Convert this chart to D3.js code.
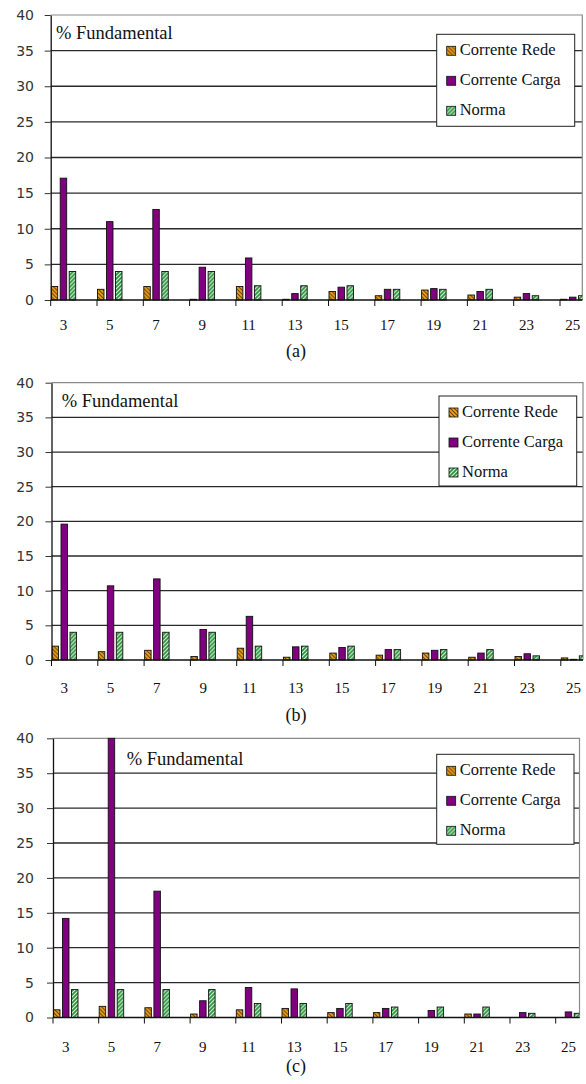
<!DOCTYPE html>
<html lang="pt">
  <head>
    <meta charset="utf-8"/>
    <style>
      body {
        margin: 0;
        background: #fff;
      }
      .ylab text {
        font-size: 14px;
        font-family: "DejaVu Sans", sans-serif;
        fill: #333;
      }
      .xlab text {
        font-size: 15px;
        font-family: "Liberation Serif", "DejaVu Serif", serif;
        fill: #111;
      }
    </style>
    <script src="https://cdn.jsdelivr.net/npm/d3@7"></script>
  </head>
  <body>
    <script>
      // harmonic orders on the x axis
      var harmonics = ["3", "5", "7", "9", "11", "13", "15", "17", "19", "21", "23", "25"];
      var seriesNames = ["Corrente Rede", "Corrente Carga", "Norma"];
      var yTicks = [0, 5, 10, 15, 20, 25, 30, 35, 40];
      var panelLabels = ["(a)", "(b)", "(c)"];

      // % of fundamental
      var redeA  = [1.9, 1.5, 1.9, 0.1, 1.9, 0.1, 1.2, 0.6, 1.4, 0.7, 0.4, 0.1];
      var cargaA = [17.1, 11.0, 12.7, 4.6, 5.9, 0.9, 1.8, 1.5, 1.6, 1.2, 0.9, 0.4];
      var redeB  = [2.0, 1.2, 1.4, 0.5, 1.7, 0.4, 1.0, 0.7, 1.0, 0.4, 0.5, 0.3];
      var cargaB = [19.6, 10.7, 11.7, 4.4, 6.3, 1.9, 1.8, 1.5, 1.4, 1.0, 0.9, 0.1];
      var redeC  = [1.1, 1.6, 1.4, 0.5, 1.1, 1.3, 0.7, 0.7, 0, 0.5, 0, 0];
      var cargaC = [14.2, 40, 18.1, 2.4, 4.3, 4.1, 1.3, 1.3, 1.0, 0.5, 0.7, 0.8];
      var norma  = [4, 4, 4, 4, 2, 2, 2, 1.5, 1.5, 1.5, 0.6, 0.6];

      var colors = {"Corrente Rede": "url(#hatchRede)", "Corrente Carga": "#800080", "Norma": "url(#hatchNorma)"};
      var serifFont = "'Liberation Serif', 'DejaVu Serif', serif";

      // layout of each of the three panels
      var panels = [
        {rede: redeA, carga: cargaA, left: 50.7, top: 15, bottom: 300, right: 582.3, step: 46.3,
         labelY: 330, titleX: 56, titleY: 38.5, leg: [436.7, 34.3, 138, 92], capY: 357},
        {rede: redeB, carga: cargaB, left: 51.5, top: 382.7, bottom: 660, right: 583, step: 46.3,
         labelY: 693, titleX: 61.7, titleY: 406.7, leg: [439, 396, 137.7, 90], capY: 721},
        {rede: redeC, carga: cargaC, left: 53, top: 738.3, bottom: 1017.5, right: 579.5, step: 45.7,
         labelY: 1052, titleX: 126.7, titleY: 765, leg: [436.7, 754.3, 137.3, 90], capY: 1072}
      ];

      var svg = d3.select("body")
                  .append("svg")
                  .attr("width", 586)
                  .attr("height", 1084);

      // hatch fills
      var defs = svg.append("defs");
      var pr = defs.append("pattern")
                   .attr("id", "hatchRede")
                   .attr("patternUnits", "userSpaceOnUse")
                   .attr("width", 4).attr("height", 4);
      pr.append("rect").attr("width", 4).attr("height", 4).attr("fill", "#eea21f");
      pr.append("path").attr("d", "M0,0L4,4M-1,3L1,5M3,-1L5,1")
        .attr("stroke", "#6b4300").attr("stroke-width", 1.1);

      var pn = defs.append("pattern")
                   .attr("id", "hatchNorma")
                   .attr("patternUnits", "userSpaceOnUse")
                   .attr("width", 4).attr("height", 4);
      pn.append("rect").attr("width", 4).attr("height", 4).attr("fill", "#2b9240");
      pn.append("path").attr("d", "M0,4L4,0M-1,1L1,-1M3,5L5,3")
        .attr("stroke", "#d8f5d8").attr("stroke-width", 1.1);

      panels.forEach(function(p, k) {
        var g = svg.append("g");

        var x = d3.scaleBand()
                  .domain(harmonics)
                  .range([p.left, p.left + harmonics.length * p.step]);
        var inner = d3.scaleBand()
                      .domain(seriesNames)
                      .range([0.5, 25])
                      .paddingInner(0.28);
        var y = d3.scaleLinear()
                  .domain([0, 40])
                  .range([p.bottom, p.top]);

        defs.append("clipPath")
            .attr("id", "clip" + k)
            .append("rect")
            .attr("x", p.left).attr("y", p.top - 1)
            .attr("width", p.right - p.left).attr("height", p.bottom - p.top + 2);

        // grid lines
        g.selectAll(".grid")
         .data(yTicks.filter(function(d) { return d > 0 && d < 40; }))
         .enter()
         .append("line")
         .attr("x1", p.left).attr("x2", p.right)
         .attr("y1", function(d) { return y(d); })
         .attr("y2", function(d) { return y(d); })
         .attr("stroke", "#2a2a2a")
         .attr("stroke-width", 1.3);

        // plot border top + right
        g.append("path")
         .attr("d", "M" + p.left + "," + y(40) + "H" + p.right + "V" + p.bottom)
         .attr("fill", "none")
         .attr("stroke", "#8a8a8a")
         .attr("stroke-width", 1.2);

        // bars
        var rows = harmonics.map(function(h, i) {
          return [
            {h: h, s: "Corrente Rede", v: p.rede[i]},
            {h: h, s: "Corrente Carga", v: p.carga[i]},
            {h: h, s: "Norma", v: norma[i]}
          ];
        });
        g.append("g")
         .attr("clip-path", "url(#clip" + k + ")")
         .selectAll("g")
         .data(rows)
         .enter()
         .append("g")
         .attr("transform", function(d) { return "translate(" + x(d[0].h) + ",0)"; })
         .selectAll("rect")
         .data(function(d) { return d.filter(function(e) { return e.v > 0; }); })
         .enter()
         .append("rect")
         .attr("x", function(d) { return inner(d.s); })
         .attr("width", inner.bandwidth())
         .attr("y", function(d) { return y(d.v); })
         .attr("height", function(d) { return Math.max(0.6, y(0) - y(d.v)); })
         .attr("fill", function(d) { return colors[d.s]; })
         .attr("stroke", "#111")
         .attr("stroke-width", 0.9);

        // y axis
        var yAxis = d3.axisLeft(y)
                      .tickValues(yTicks)
                      .tickSize(6)
                      .tickSizeOuter(0)
                      .tickPadding(p.left - 34 - 6);
        g.append("g")
         .attr("class", "ylab")
         .attr("transform", "translate(" + p.left + ",0)")
         .call(yAxis)
         .call(function(a) {
           a.attr("font-family", null).attr("font-size", null);
           a.select(".domain").attr("stroke", "#111").attr("stroke-width", 1.3);
           a.selectAll("line").attr("stroke", "#333");
         });

        // x axis: labels under the bar groups, ticks at category starts
        var xAxis = d3.axisBottom(x).tickSize(6).tickSizeOuter(0);
        var xg = g.append("g")
                  .attr("class", "xlab")
                  .attr("transform", "translate(0," + p.bottom + ")")
                  .call(xAxis)
                  .attr("font-family", null)
                  .attr("font-size", null);
        xg.select(".domain")
          .attr("d", "M" + p.left + ",0H" + p.right)
          .attr("stroke", "#111").attr("stroke-width", 1.3);
        xg.selectAll(".tick line")
          .attr("x1", -x.step() / 2).attr("x2", -x.step() / 2)
          .attr("stroke", "#111");
        xg.selectAll(".tick text")
          .attr("x", inner("Corrente Carga") + inner.bandwidth() / 2 - x.step() / 2)
          .attr("y", p.labelY - p.bottom)
          .attr("dy", 0);

        // "% Fundamental"
        g.append("text")
         .attr("x", p.titleX)
         .attr("y", p.titleY)
         .style("font-family", serifFont)
         .style("font-size", "18.5px")
         .style("fill", "#111")
         .text("% Fundamental");

        // legend
        var lg = g.append("g")
                  .attr("transform", "translate(" + p.leg[0] + "," + p.leg[1] + ")");
        lg.append("rect")
          .attr("width", p.leg[2]).attr("height", p.leg[3])
          .attr("fill", "#fff")
          .attr("stroke", "#222")
          .attr("stroke-width", 1);
        var item = lg.selectAll(".item")
                     .data(seriesNames)
                     .enter()
                     .append("g")
                     .attr("transform", function(d, i) { return "translate(0," + (21 + i * 30) + ")"; });
        item.append("rect")
            .attr("x", 10).attr("y", -9)
            .attr("width", 9).attr("height", 9)
            .attr("fill", function(d) { return colors[d]; })
            .attr("stroke", "#111")
            .attr("stroke-width", 0.8);
        item.append("text")
            .attr("x", 23)
            .style("font-family", serifFont)
            .style("font-size", "16.5px")
            .style("fill", "#111")
            .text(function(d) { return d; });

        // panel caption
        g.append("text")
         .attr("x", 296)
         .attr("y", p.capY)
         .attr("text-anchor", "middle")
         .style("font-family", serifFont)
         .style("font-size", "18px")
         .style("fill", "#111")
         .text(panelLabels[k]);
      });
    </script>
  </body>
</html>
